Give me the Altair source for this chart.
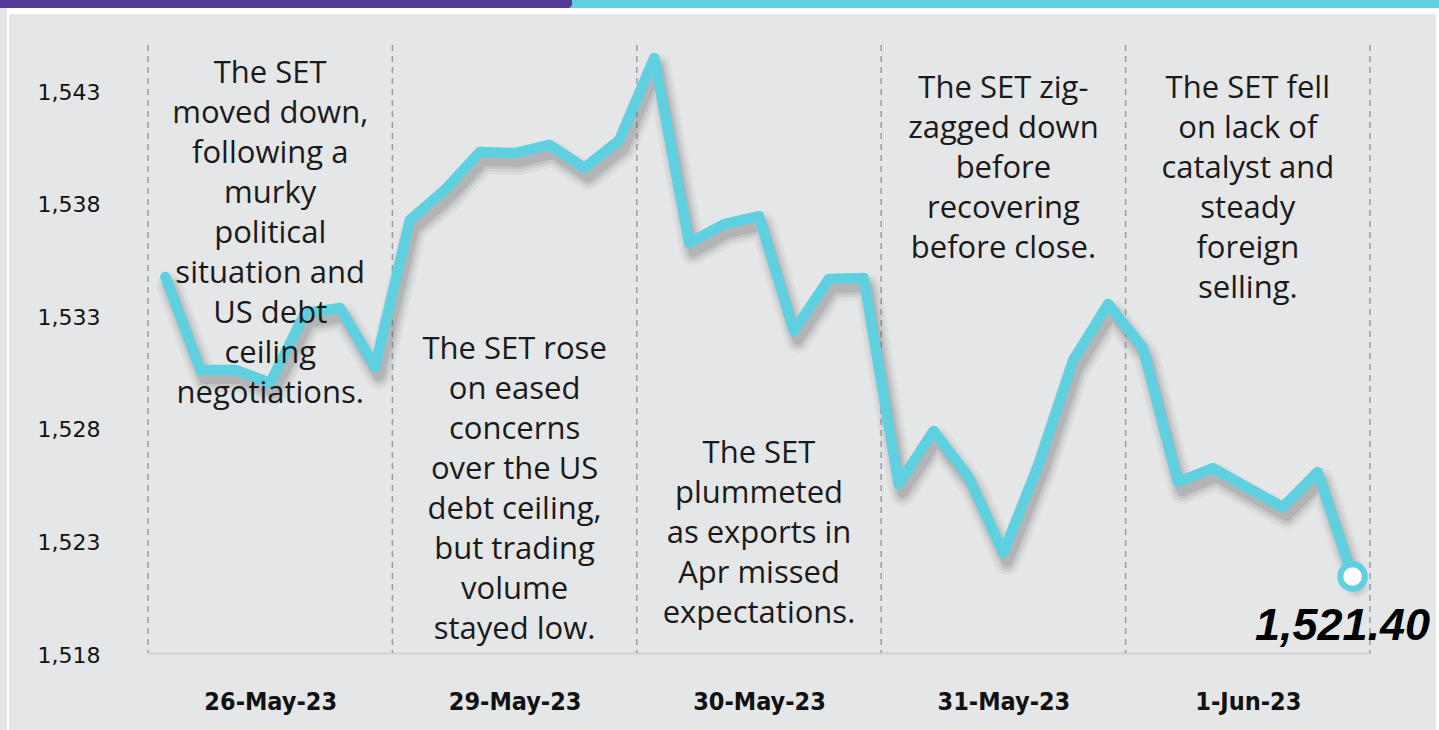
import altair as alt
import pandas as pd

# ---------------- data ----------------
day_labels = ["26-May-23", "29-May-23", "30-May-23", "31-May-23", "1-Jun-23"]
points_per_day = 7
set_values = [
    1534.70, 1530.57, 1530.57, 1529.99, 1533.10, 1533.32, 1530.70,   # 26-May
    1537.23, 1538.56, 1540.25, 1540.20, 1540.56, 1539.54, 1540.78,   # 29-May
    1544.42, 1536.21, 1537.05, 1537.40, 1532.30, 1534.61, 1534.65,   # 30-May
    1525.50, 1527.86, 1525.82, 1522.44, 1526.35, 1531.01, 1533.50,   # 31-May
    1531.54, 1525.59, 1526.21, 1525.33, 1524.48, 1526.04, 1521.40,   # 1-Jun
]
y_ticks = [1518, 1523, 1528, 1533, 1538, 1543]
notes = [
    "The SET\nmoved down,\nfollowing a\nmurky\npolitical\nsituation and\nUS debt\nceiling\nnegotiations.",
    "The SET rose\non eased\nconcerns\nover the US\ndebt ceiling,\nbut trading\nvolume\nstayed low.",
    "The SET\nplummeted\nas exports in\nApr missed\nexpectations.",
    "The SET zig-\nzagged down\nbefore\nrecovering\nbefore close.",
    "The SET fell\non lack of\ncatalyst and\nsteady\nforeign\nselling.",
]
note_top_values = [1544.40, 1532.12, 1527.50, 1543.70, 1543.70]
close_label = "1,521.40"

# ---------------- tables ----------------
n = len(set_values)
df = pd.DataFrame({"i": list(range(n)), "v": set_values})
bounds = pd.DataFrame({"b": [k * points_per_day - 0.5 for k in range(len(day_labels) + 1)]})
centers = [k * points_per_day + (points_per_day - 1) / 2 for k in range(len(day_labels))]
notes_df = pd.DataFrame({
    "c": centers,
    "t": notes,
    "y": note_top_values,
})
last_df = df.tail(1).assign(lbl=close_label)
one = pd.DataFrame({"k": [0]})

W, H = 1222, 608
CYAN = "#5fd0df"
PURPLE = "#553a98"

xs = alt.Scale(domain=[-0.5, n - 0.5], nice=False, zero=False)
ys = alt.Scale(domain=[1518, 1545], nice=False, zero=False)

label_expr = "[" + ",".join("'" + d + "'" for d in day_labels) + "][floor(datum.value / %d)]" % points_per_day

X = alt.X("i:Q", scale=xs, title=None,
          axis=alt.Axis(values=centers, labelExpr=label_expr, ticks=False, grid=False,
                        domain=True, domainColor="#cfd0d2", domainWidth=2,
                        labelFont="Liberation Sans Narrow, DejaVu Sans Condensed, Roboto",
                        labelFontWeight="bold", labelFontSize=25, labelColor="#111111",
                        labelPadding=48, labelBaseline="middle"))
Y = alt.Y("v:Q", scale=ys, title=None,
          axis=alt.Axis(values=y_ticks, format=",d", ticks=False, grid=False, domain=False,
                        labelFont="DejaVu Sans", labelFontSize=22, labelColor="#111111",
                        labelPadding=48, labelOffset=2))

# ---------------- decorations ----------------
cyan_bar = alt.Chart(one).mark_rect(color=CYAN).encode(
    x=alt.value(410), x2=alt.value(1291), y=alt.value(-45), y2=alt.value(-37))
purple_bar = alt.Chart(one).mark_rect(color=PURPLE, cornerRadiusBottomRight=14).encode(
    x=alt.value(-148), x2=alt.value(424), y=alt.value(-45), y2=alt.value(-37))
white_top = alt.Chart(one).mark_rect(color="#ffffff").encode(
    x=alt.value(-141), x2=alt.value(1291), y=alt.value(-37), y2=alt.value(-31))
white_left = alt.Chart(one).mark_rect(color="#ffffff").encode(
    x=alt.value(-141), x2=alt.value(-139), y=alt.value(-37), y2=alt.value(700))
white_right = alt.Chart(one).mark_rect(color="#ffffff").encode(
    x=alt.value(1288), x2=alt.value(1291), y=alt.value(-37), y2=alt.value(700))

# ---------------- chart layers ----------------
rules = alt.Chart(bounds).mark_rule(color="#9c9c9c", strokeDash=[6, 5], strokeWidth=1.5).encode(
    x=alt.X("b:Q", scale=xs))

shadow_layers = []
for w, op in [(26, 0.06), (20, 0.08), (15, 0.11), (10, 0.15)]:
    shadow_layers.append(
        alt.Chart(df).mark_line(color="#5a5a5a", strokeWidth=w, opacity=op, xOffset=4, yOffset=9,
                                strokeCap="round", strokeJoin="round").encode(
            x=alt.X("i:Q", scale=xs), y=alt.Y("v:Q", scale=ys)))

line = alt.Chart(df).mark_line(color=CYAN, strokeWidth=10.5, strokeCap="round", strokeJoin="round").encode(
    x=X, y=Y)

note_text = alt.Chart(notes_df).mark_text(
    font="Open Sans", fontSize=31, lineHeight=40, align="center", baseline="top",
    color="#1a1a1a", lineBreak="\n").encode(
    x=alt.X("c:Q", scale=xs), y=alt.Y("y:Q", scale=ys), text="t:N")

end_point = alt.Chart(last_df).mark_point(
    shape="circle", size=600, filled=True, fill="#ffffff", stroke=CYAN, strokeWidth=6, opacity=1).encode(
    x=alt.X("i:Q", scale=xs), y=alt.Y("v:Q", scale=ys))

end_label = alt.Chart(last_df).mark_text(
    font="Liberation Sans", fontSize=45, fontWeight="bold", fontStyle="italic",
    align="center", baseline="alphabetic", dx=-10, dy=64, color="#000000").encode(
    x=alt.X("i:Q", scale=xs), y=alt.Y("v:Q", scale=ys), text="lbl:N")

chart = alt.layer(
    cyan_bar, purple_bar, white_top, white_left, white_right,
    rules, *shadow_layers, line, note_text, end_point, end_label
).properties(
    width=W, height=H,
    padding={"left": 148, "top": 45, "right": 69, "bottom": 77},
    autosize=alt.AutoSizeParams(type="none"),
    background="#e5e6e8",
).configure_view(stroke=None)

chart.save("out.html", embed_options={"renderer": "svg", "actions": False})
